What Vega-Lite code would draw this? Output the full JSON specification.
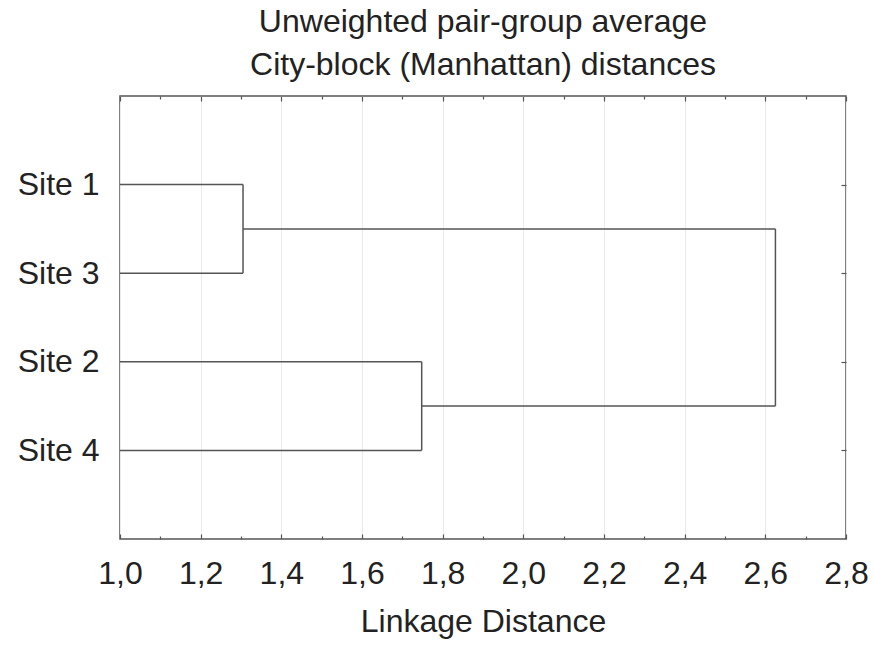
{
  "$schema": "https://vega.github.io/schema/vega-lite/v6.json",
  "width": 726,
  "height": 443,
  "autosize": {"type": "none"},
  "padding": {"left": 120, "top": 96, "right": 28, "bottom": 106},
  "background": "white",
  "config": {
    "view": {"stroke": "#555", "strokeWidth": 1.5},
    "font": "Liberation Sans"
  },
  "title": {
    "text": ["Unweighted pair-group average", "City-block (Manhattan) distances"],
    "fontSize": 32,
    "fontWeight": "normal",
    "color": "#222",
    "font": "Liberation Sans",
    "lineHeight": 43,
    "offset": 13,
    "anchor": "middle"
  },
  "data": {
    "values": [
      {"x": 1.0, "x2": 1.305, "y": 1, "y2": 1},
      {"x": 1.0, "x2": 1.305, "y": 2, "y2": 2},
      {"x": 1.305, "x2": 1.305, "y": 1, "y2": 2},
      {"x": 1.305, "x2": 2.625, "y": 1.5, "y2": 1.5},
      {"x": 1.0, "x2": 1.748, "y": 3, "y2": 3},
      {"x": 1.0, "x2": 1.748, "y": 4, "y2": 4},
      {"x": 1.748, "x2": 1.748, "y": 3, "y2": 4},
      {"x": 1.748, "x2": 2.625, "y": 3.5, "y2": 3.5},
      {"x": 2.625, "x2": 2.625, "y": 1.5, "y2": 3.5}
    ]
  },
  "resolve": {"axis": {"x": "independent", "y": "independent"}},
  "layer": [
    {
      "mark": {"type": "rule", "color": "#555", "strokeWidth": 1.5},
      "encoding": {
        "x": {
          "field": "x", "type": "quantitative",
          "scale": {"domain": [1, 2.8], "nice": false, "zero": false},
          "axis": {
            "orient": "bottom",
            "values": [1.0, 1.1, 1.2, 1.3, 1.4, 1.5, 1.6, 1.7, 1.8, 1.9, 2.0, 2.1, 2.2, 2.3, 2.4, 2.5, 2.6, 2.7, 2.8],
            "labelExpr": "abs(datum.value*5 - round(datum.value*5)) < 0.001 ? replace(format(datum.value, '.1f'), '.', ',') : ''",
            "labelFontSize": 32,
            "labelColor": "#222",
            "labelFont": "Liberation Sans",
            "labelPadding": 24,
            "labelOverlap": false,
            "labelFlush": false,
            "domain": false,
            "tickColor": "#555",
            "tickWidth": 1.2,
            "tickSize": {"condition": {"test": "abs(datum.value*5 - round(datum.value*5)) < 0.001", "value": -5}, "value": -3},
            "grid": true,
            "gridColor": "#ebebeb",
            "gridWidth": 1,
            "gridOpacity": {"condition": {"test": "abs(datum.value*5 - round(datum.value*5)) < 0.001", "value": 1}, "value": 0},
            "title": "Linkage Distance",
            "titleFontSize": 32,
            "titleFontWeight": "normal",
            "titleColor": "#222",
            "titleFont": "Liberation Sans",
            "titlePadding": 15
          }
        },
        "x2": {"field": "x2"},
        "y": {
          "field": "y", "type": "quantitative",
          "scale": {"domain": [0, 5], "nice": false, "zero": false, "reverse": true},
          "axis": {
            "orient": "left",
            "values": [1, 2, 3, 4],
            "labelExpr": "datum.value == 1 ? 'Site 1' : datum.value == 2 ? 'Site 3' : datum.value == 3 ? 'Site 2' : 'Site 4'",
            "labelFontSize": 32,
            "labelColor": "#222",
            "labelFont": "Liberation Sans",
            "labelPadding": 21,
            "ticks": false,
            "domain": false,
            "grid": false,
            "title": null
          }
        },
        "y2": {"field": "y2"}
      }
    },
    {
      "mark": {"type": "rule", "color": "#555", "strokeWidth": 1.5, "opacity": 0},
      "encoding": {
        "x": {
          "field": "x", "type": "quantitative",
          "scale": {"domain": [1, 2.8], "nice": false, "zero": false},
          "axis": {
            "orient": "top",
            "values": [1.0, 1.1, 1.2, 1.3, 1.4, 1.5, 1.6, 1.7, 1.8, 1.9, 2.0, 2.1, 2.2, 2.3, 2.4, 2.5, 2.6, 2.7, 2.8],
            "labels": false,
            "domain": false,
            "grid": false,
            "tickColor": "#555",
            "tickWidth": 1.2,
            "tickSize": {"condition": {"test": "abs(datum.value*5 - round(datum.value*5)) < 0.001", "value": -5}, "value": -3},
            "title": null
          }
        },
        "x2": {"field": "x2"},
        "y": {
          "field": "y", "type": "quantitative",
          "scale": {"domain": [0, 5], "nice": false, "zero": false, "reverse": true},
          "axis": {
            "orient": "right",
            "values": [1, 2, 3, 4],
            "labels": false,
            "domain": false,
            "grid": false,
            "tickColor": "#555",
            "tickWidth": 1.2,
            "tickSize": -5,
            "title": null
          }
        },
        "y2": {"field": "y2"}
      }
    }
  ]
}
